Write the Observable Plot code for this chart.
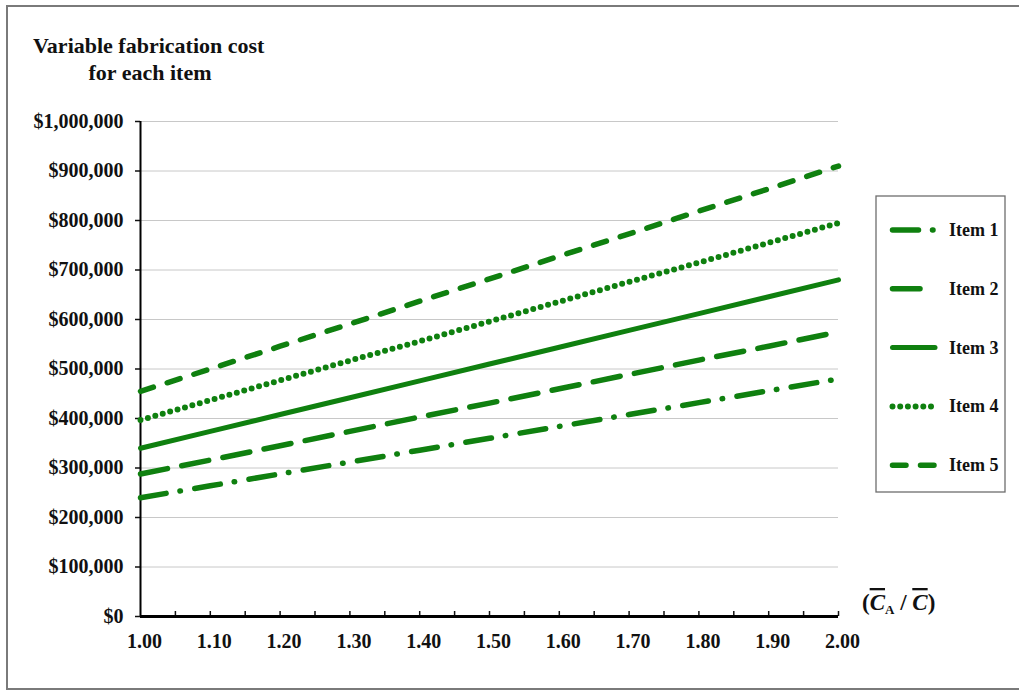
<!DOCTYPE html>
<html>
<head>
<meta charset="utf-8">
<script src="https://cdn.jsdelivr.net/npm/d3@7"></script>
<script src="https://cdn.jsdelivr.net/npm/@observablehq/plot@0.6"></script>
<style>
  html, body { margin: 0; padding: 0; background: #fff; }
  #chart { width: 1019px; height: 691px; }
</style>
</head>
<body>
<div id="chart"></div>
<script>
// ---- data ----
const xValues = [1.00, 1.10, 1.20, 1.30, 1.40, 1.50, 1.60, 1.70, 1.80, 1.90, 2.00];
const item1 = [240000, 264000, 288000, 312000, 336000, 360000, 384000, 408000, 432000, 456000, 480000];
const item2 = [288000, 316000, 345000, 374000, 403000, 431000, 460000, 489000, 518000, 546000, 575000];
const item3 = [340000, 374000, 408000, 442000, 476000, 510000, 544000, 578000, 612000, 646000, 680000];
const item4 = [397000, 437000, 477000, 517000, 556000, 596000, 636000, 676000, 715000, 755000, 795000];
const item5 = [455000, 500000, 546000, 591000, 637000, 682000, 728000, 773000, 819000, 864000, 910000];
const itemNames = ["Item 1", "Item 2", "Item 3", "Item 4", "Item 5"];
const yTicks = [0, 100000, 200000, 300000, 400000, 500000, 600000, 700000, 800000, 900000, 1000000];
const xTickLabels = [1.00, 1.10, 1.20, 1.30, 1.40, 1.50, 1.60, 1.70, 1.80, 1.90, 2.00];
const xMinorTicks = [1.05, 1.10, 1.15, 1.20, 1.25, 1.30, 1.35, 1.40, 1.45, 1.50, 1.55, 1.60, 1.65, 1.70, 1.75, 1.80, 1.85, 1.90, 1.95, 2.00];
const titleLines = ["Variable fabrication cost", "for each item"];

// ---- styles ----
const green = "#0f800f";
const serif = "'Liberation Serif', 'Times New Roman', serif";
const lineStyles = [
  {dash: "26,14,0.5,14.5", width: 5.5},
  {dash: "27.5,14.5", width: 5.5},
  {dash: null, width: 5},
  {dash: "0,7.7", width: 6},
  {dash: "13.5,14.5", width: 5.5}
];
const series = [item1, item2, item3, item4, item5];
const tables = series.map((vals, i) => xValues.map((x, j) => ({x, y: vals[j], item: itemNames[i]})));

const W = 1019, H = 691;
const lineMarks = tables.map((t, i) => Plot.line(t, {
  x: "x", y: "y", stroke: green, strokeWidth: lineStyles[i].width,
  strokeDasharray: lineStyles[i].dash, strokeLinecap: "round", strokeLinejoin: "round"
}));

const chart = Plot.plot({
  width: W, height: H,
  marginLeft: 140, marginRight: 181, marginTop: 121, marginBottom: 75,
  style: {fontFamily: serif, fontWeight: "bold", fontSize: "20px", color: "#111", background: "#fff"},
  x: {domain: [1, 2]},
  y: {domain: [0, 1000000]},
  marks: [
    Plot.gridY(yTicks.filter(d => d > 0), {stroke: "#c8c8c8", strokeOpacity: 1, strokeWidth: 1}),
    Plot.axisY({ticks: yTicks, tickFormat: d3.format("$,"), tickSize: 5, tickPadding: 12, strokeWidth: 1.5, fontSize: 20, fontWeight: "bold", fill: "#111", label: null}),
    Plot.axisX({ticks: xMinorTicks, tickSize: -5, tickFormat: () => "", strokeWidth: 1.5, label: null}),
    Plot.axisX({ticks: xTickLabels, tickSize: 0, tickPadding: 17, tickFormat: d3.format(".2f"), fontSize: 20, fontWeight: "bold", fill: "#111", dx: 4, label: null}),
    Plot.ruleX([1], {stroke: "#000", strokeWidth: 2}),
    ...lineMarks,
    Plot.ruleY([0], {stroke: "#000", strokeWidth: 3})
  ]
});
document.getElementById("chart").appendChild(chart);

// ---- decorations: border, title, legend, x label ----
const svg = d3.select(chart);
svg.insert("path", ":first-child")
  .attr("d", `M${W + 5},6 H7 V689 H${W + 5}`)
  .attr("fill", "none").attr("stroke", "#7a7a7a").attr("stroke-width", 2);

const title = svg.append("text").attr("font-family", serif).attr("font-weight", "bold")
  .attr("font-size", 22).attr("fill", "#111").attr("text-anchor", "start");
title.append("tspan").attr("x", 33).attr("y", 53).text(titleLines[0]);
title.append("tspan").attr("x", 150).attr("y", 80).attr("text-anchor", "middle").text(titleLines[1]);

// legend
const lg = svg.append("g");
lg.append("rect").attr("x", 876).attr("y", 196).attr("width", 129).attr("height", 296)
  .attr("fill", "#fff").attr("stroke", "#6e6e6e").attr("stroke-width", 1.3);
const legendEnds = [935, 933, 935, 935, 935];
itemNames.forEach((name, i) => {
  const cy = 230 + i * 58.8;
  lg.append("line").attr("x1", 892.5).attr("x2", legendEnds[i]).attr("y1", cy).attr("y2", cy)
    .attr("stroke", green).attr("stroke-width", lineStyles[i].width)
    .attr("stroke-dasharray", lineStyles[i].dash).attr("stroke-linecap", "round");
  lg.append("text").attr("x", 949).attr("y", cy + 6).attr("font-family", serif)
    .attr("text-anchor", "start")
    .attr("font-weight", "bold").attr("font-size", 18).attr("fill", "#111").text(name);
});

// x-axis label (C̄A / C̄)
const xl = svg.append("text").attr("x", 862).attr("y", 610).attr("font-family", serif)
  .attr("text-anchor", "start")
  .attr("font-weight", "bold").attr("font-size", 23).attr("fill", "#111");
xl.append("tspan").text("(");
xl.append("tspan").attr("font-style", "italic").style("text-decoration", "overline").text("C");
xl.append("tspan").attr("font-size", 13).attr("dy", 4).text("A");
xl.append("tspan").attr("dy", -4).text(" / ");
xl.append("tspan").attr("font-style", "italic").style("text-decoration", "overline").text("C");
xl.append("tspan").text(")");
</script>
</body>
</html>
